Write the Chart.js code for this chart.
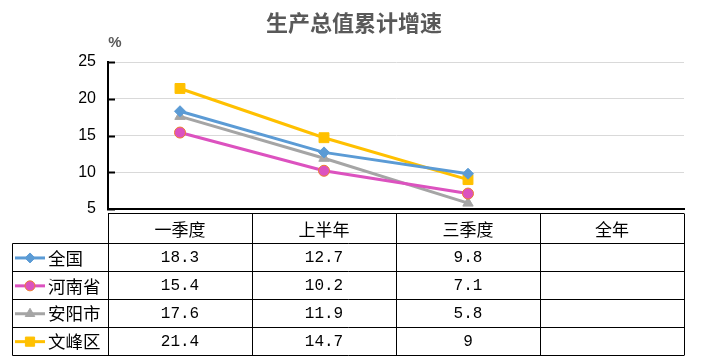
<!DOCTYPE html>
<html>
<head>
<meta charset="utf-8">
<script src="https://cdn.jsdelivr.net/npm/chart.js@4/dist/chart.umd.min.js"></script>
<style>
html,body{margin:0;padding:0;background:#fff;}
#wrap{width:708px;height:359px;position:relative;}
</style>
</head>
<body>
<div id="wrap"><canvas id="c" width="708" height="359"></canvas></div>
<script>
const titleText = '生产总值累计增速';
const unitText = '%';
const categories = ['一季度', '上半年', '三季度', '全年'];
const seriesNames = ['全国', '河南省', '安阳市', '文峰区'];
const quanguo = [18.3, 12.7, 9.8];
const henan = [15.4, 10.2, 7.1];
const anyang = [17.6, 11.9, 5.8];
const wenfeng = [21.4, 14.7, 9];
const yTicks = [5, 10, 15, 20, 25];

const colors = ['#5B9BD5', '#DC52BF', '#A5A5A5', '#FFC000'];
const borders = ['#5B9BD5', '#ED7D31', '#A5A5A5', '#FFC000'];
const styles = ['rectRot', 'circle', 'triangle', 'rect'];
const radii = [5.5, 5.5, 6, 7];
const seriesData = [quanguo, henan, anyang, wenfeng];

const datasets = seriesData.map((d, i) => ({
  label: seriesNames[i],
  data: d,
  borderColor: colors[i],
  backgroundColor: colors[i],
  pointBackgroundColor: colors[i],
  pointBorderColor: borders[i],
  pointBorderWidth: 1,
  pointStyle: styles[i],
  pointRadius: radii[i],
  pointHoverRadius: radii[i],
  borderWidth: 3,
  tension: 0,
  fill: false
}));
const CJK = '"Noto Sans CJK SC", sans-serif';
const NUM = '"Liberation Mono", "Noto Sans CJK SC", monospace';

function drawMarker(ctx, style, r, x, y, fill, stroke) {
  ctx.save();
  ctx.fillStyle = fill;
  ctx.strokeStyle = stroke;
  ctx.lineWidth = 1;
  Chart.helpers.drawPoint(ctx, {pointStyle: style, radius: r, borderWidth: 1}, x, y);
  ctx.restore();
}

const tablePlugin = {
  id: 'tablePlugin',
  afterDraw(chart) {
    const ctx = chart.ctx;
    const ca = chart.chartArea;
    const xs = chart.scales.x;
    const ys = chart.scales.y;
    ctx.save();
    // title
    ctx.fillStyle = '#595959';
    ctx.font = 'bold 22px ' + CJK;
    ctx.textAlign = 'center';
    ctx.textBaseline = 'middle';
    ctx.fillText(titleText, 354, 23);
    ctx.font = 'bold 15px "Liberation Sans", ' + CJK;
    ctx.fillText(unitText, 115, 43);
    // inside ticks on y axis
    ctx.strokeStyle = '#000';
    ctx.lineWidth = 2;
    yTicks.forEach(v => {
      const y = Math.round(ys.getPixelForValue(v)) + 0.5;
      ctx.beginPath();
      ctx.moveTo(ca.left - 1, y);
      ctx.lineTo(ca.left + 7, y);
      ctx.stroke();
    });
    // table
    const colW = (ca.right - ca.left) / categories.length;
    const top = ca.bottom + 4.5;
    const headB = 243;
    const rowH = 27.9;
    const nRows = seriesNames.length;
    const bottom = headB + rowH * nRows;
    const legL = 12.5;
    ctx.lineWidth = 1;
    ctx.strokeStyle = '#000';
    ctx.beginPath();
    ctx.moveTo(ca.left, top); ctx.lineTo(ca.right, top);
    for (let r = 0; r <= nRows; r++) {
      const y = Math.round(headB + r * rowH) + 0.5;
      ctx.moveTo(legL, y); ctx.lineTo(ca.right, y);
    }
    for (let c = 0; c <= categories.length; c++) {
      const x = Math.round(ca.left + c * colW) + 0.5;
      ctx.moveTo(x, top); ctx.lineTo(x, Math.round(bottom) + 0.5);
    }
    ctx.moveTo(legL, headB + 0.5); ctx.lineTo(legL, Math.round(bottom) + 0.5);
    ctx.stroke();
    // header
    ctx.fillStyle = '#000';
    ctx.textAlign = 'center';
    ctx.textBaseline = 'middle';
    ctx.font = '17px ' + CJK;
    categories.forEach((c, i) => {
      ctx.fillText(c, xs.getPixelForValue(i), (top + headB) / 2 + 1);
    });
    // rows
    seriesNames.forEach((name, r) => {
      const cy = headB + r * rowH + rowH / 2 + 1;
      ctx.strokeStyle = colors[r];
      ctx.lineWidth = 3;
      ctx.beginPath();
      ctx.moveTo(15, cy); ctx.lineTo(45, cy);
      ctx.stroke();
      drawMarker(ctx, styles[r], radii[r] - 0.5, 30, cy, colors[r], borders[r]);
      ctx.fillStyle = '#000';
      ctx.textAlign = 'left';
      ctx.font = '17.5px ' + CJK;
      ctx.fillText(name, 48, cy);
      ctx.textAlign = 'center';
      ctx.font = '16px ' + NUM;
      seriesData[r].forEach((v, i) => {
        ctx.fillText(String(v), xs.getPixelForValue(i), cy);
      });
    });
    ctx.restore();
  }
};

new Chart(document.getElementById('c'), {
  type: 'line',
  data: { labels: categories, datasets: datasets },
  options: {
    responsive: false,
    animation: false,
    events: [],
    layout: { padding: { top: 62, right: 24, left: 0, bottom: 0 } },
    plugins: { legend: { display: false }, title: { display: false }, tooltip: { enabled: false } },
    scales: {
      x: {
        type: 'category',
        offset: true,
        grid: { display: false },
        border: { display: true, color: '#000', width: 2 },
        ticks: { display: false },
        afterFit(s) { s.height = 150; }
      },
      y: {
        min: 5, max: 25,
        afterBuildTicks(s) { s.ticks = yTicks.map(v => ({ value: v })); },
        grid: { color: '#D9D9D9', lineWidth: 1, drawTicks: false },
        border: { display: true, color: '#000', width: 2 },
        ticks: { color: '#000', font: { family: '"Liberation Sans", sans-serif', size: 16 }, padding: 12 },
        afterFit(s) { s.width = 108; }
      }
    }
  },
  plugins: [tablePlugin]
});
</script>
</body>
</html>
